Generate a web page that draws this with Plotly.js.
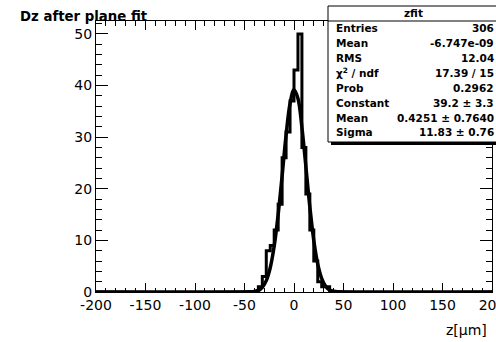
<!DOCTYPE html>
<html>
<head>
<meta charset="utf-8">
<script src="https://cdn.plot.ly/plotly-3.0.1.min.js"></script>
<style>html,body{margin:0;padding:0;background:#fff;}#chart{width:496px;height:342px;}</style>
</head>
<body>
<div id="chart"></div>
<script>
// ---- data ----
const binEdges  = [-36,-32,-28,-24,-20,-16,-12,-8,-4,0,4,8,12,16,20,24,28,32,36];
const binCounts = [1,3,8,9,12,17,26,31,37,43,50,28,19,12,6,2,1,1];
const fitX = [-200,-44,-40,-36,-32,-28,-24,-20,-16,-12,-8,-4,0,4,8,12,16,20,24,28,32,36,40,44,200];
const fitY = [0,0.05,0.12,0.3,0.9,2.2,4.7,8.9,15.0,22.5,30.4,36.5,39.2,37.5,31.9,24.3,16.5,10.0,5.4,2.6,1.1,0.4,0.15,0.05,0];
const xRange = [-200, 200];
const yRange = [0, 52.5];
const xTickVals = [-200,-150,-100,-50,0,50,100,150,200];
const xTickLabels = ["-200","-150","-100","-50","0","50","100","150","200"];
const yTickVals = [0,10,20,30,40,50];
const yTickLabels = ["0","10","20","30","40","50"];
const xTitle = "z[μm]";
const plotTitle = "Dz after plane fit";
const statsName = "zfit";
const statLabels = ["Entries","Mean","RMS","χ<sup>2</sup> / ndf","Prob","Constant","Mean","Sigma"];
const statValues = ["306","-6.747e-09","12.04","17.39 / 15","0.2962","39.2 ± 3.3","0.4251 ± 0.7640","11.83 ± 0.76"];

// ---- layout geometry (pixels) ----
const W = 496, H = 342;
const M = {l:96, r:4, t:21, b:50};
const pw = W - M.l - M.r, ph = H - M.t - M.b;
const PX = x => (x - M.l) / pw;
const PY = y => (H - M.b - y) / ph;

const histX = [xRange[0], ...binEdges, xRange[1]];
const histY = [0, ...binCounts, 0, 0];

const traces = [
  {x: histX, y: histY, type:'scatter', mode:'lines', line:{shape:'hv', color:'#000', width:3}, hoverinfo:'skip'},
  {x: fitX, y: fitY, type:'scatter', mode:'lines', line:{shape:'spline', smoothing:1, color:'#000', width:3.5}, hoverinfo:'skip'}
];

const font = 'DejaVu Sans, sans-serif';
const axisCommon = {
  showgrid:false, zeroline:false, showline:true, linecolor:'#000', linewidth:1,
  ticks:'inside', tickcolor:'#000', tickwidth:1, mirror:'ticks', tickmode:'array',
  tickfont:{family:font, size:14, color:'#000'}, fixedrange:true, ticklabeloverflow:'allow'
};

const annotations = [];
annotations.push({xref:'paper', yref:'paper', x:PX(413), y:PY(13), text:'<b>'+statsName+'</b>', showarrow:false,
  xanchor:'center', yanchor:'middle', font:{family:font, size:10.5, color:'#000'}});
const rowY = [28,43,58,73,88,103,118,132];
statLabels.forEach((t,i)=>{
  annotations.push({xref:'paper', yref:'paper', x:PX(334), y:PY(rowY[i]), text:'<b>'+t+'</b>', showarrow:false,
    xanchor:'left', yanchor:'middle', font:{family:font, size:10.5, color:'#000'}});
  annotations.push({xref:'paper', yref:'paper', x:PX(496), y:PY(rowY[i]), text:'<b>'+statValues[i]+'</b>', showarrow:false,
    xanchor:'right', yanchor:'middle', font:{family:font, size:10.5, color:'#000'}});
});
annotations.push({xref:'paper', yref:'paper', x:PX(489), y:PY(330), text:xTitle, showarrow:false,
  xanchor:'right', yanchor:'middle', font:{family:font, size:14, color:'#000'}});

const shapes = [
  {type:'rect', xref:'paper', yref:'paper', x0:PX(331), x1:PX(502), y0:PY(145), y1:PY(139), fillcolor:'#000', line:{width:0}, layer:'above'},
  {type:'rect', xref:'paper', yref:'paper', x0:PX(328), x1:PX(500), y0:PY(142), y1:PY(6), fillcolor:'#fff', line:{color:'#000', width:1}, layer:'above'},
  {type:'line', xref:'paper', yref:'paper', x0:PX(328), x1:PX(500), y0:PY(21), y1:PY(21), line:{color:'#000', width:1}, layer:'above'}
];

const layout = {
  width:W, height:H, margin:M, paper_bgcolor:'#fff', plot_bgcolor:'#fff', showlegend:false,
  title:{text:'<b>'+plotTitle+'</b>', xref:'container', yref:'container', x:20/W, xanchor:'left', y:1-16/H, yanchor:'middle',
    font:{family:font, size:13.3, color:'#000'}},
  xaxis:Object.assign({}, axisCommon, {range:xRange, tickvals:xTickVals, ticktext:xTickLabels, ticklen:9,
    minor:{tickmode:'linear', dtick:10, tick0:-200, ticklen:4.5, ticks:'inside', tickcolor:'#000', tickwidth:1}}),
  yaxis:Object.assign({}, axisCommon, {range:yRange, tickvals:yTickVals, ticktext:yTickLabels, ticklen:12,
    minor:{tickmode:'linear', dtick:2, tick0:0, ticklen:6, ticks:'inside', tickcolor:'#000', tickwidth:1}}),
  annotations:annotations, shapes:shapes
};

Plotly.newPlot('chart', traces, layout, {staticPlot:true, displayModeBar:false});
</script>
</body>
</html>
